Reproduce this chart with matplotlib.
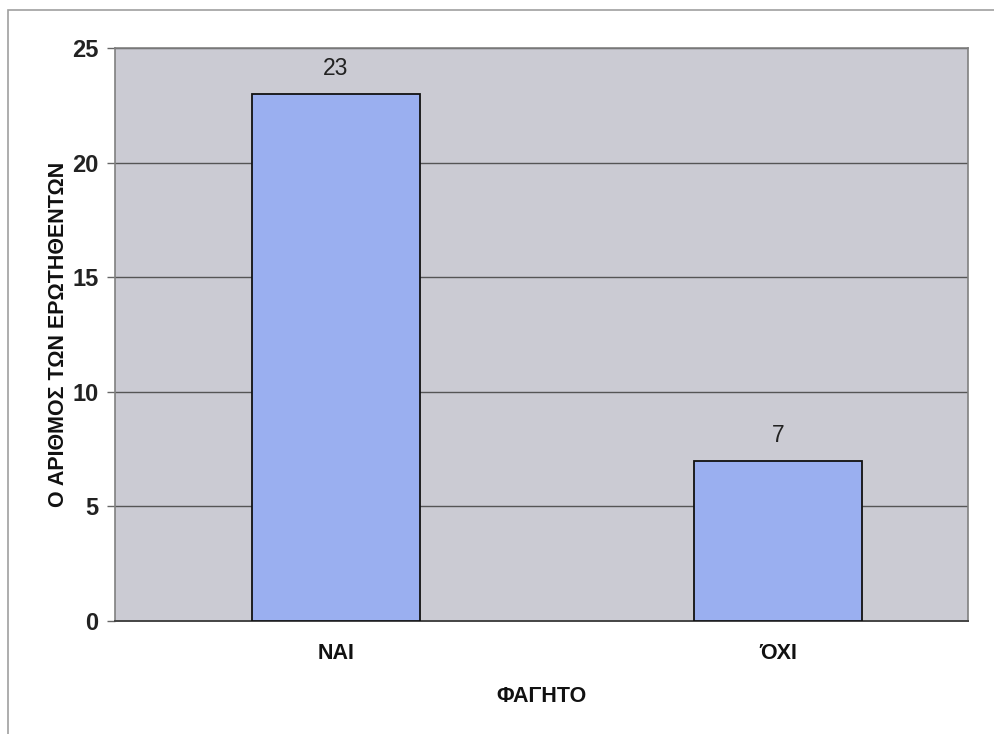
import matplotlib.pyplot as plt
from matplotlib.patches import Rectangle

categories = ["ΝΑΙ", "ΌΧΙ"]
values = [23, 7]
yticks = [0, 5, 10, 15, 20, 25]

plt.rcParams['font.family'] = ['Liberation Sans', 'DejaVu Sans']

fig = plt.figure(figsize=(9.95, 7.34), dpi=100)
fig.patch.set_facecolor("white")

# chart area border (scan of an Excel chart)
fig.patches.append(Rectangle((8 / 995, -0.1), 1.2, (734 - 10) / 734 + 0.1,
                             transform=fig.transFigure, fill=False,
                             edgecolor="#a0a0a0", lw=1.2))

ax = fig.add_axes([115 / 995, 1 - 621 / 734, (968 - 115) / 995, (621 - 48) / 734])
ax.set_facecolor("#cbcbd3")

x = [0, 1]
bars = ax.bar(x, values, width=0.38, color="#9aaff0", edgecolor="#111111", lw=1.3, zorder=3)
for xi, v in zip(x, values):
    ax.text(xi, v + 0.6, str(v), ha="center", va="bottom", fontsize=16.5, color="#222222")

ax.set_xlim(-0.5, 1.43)
ax.set_ylim(0, 25)
ax.set_yticks(yticks)
ax.yaxis.grid(True, color="#555555", lw=1.0, zorder=1)
ax.set_axisbelow(True)

ax.set_xticks(x)
ax.set_xticklabels(categories, fontsize=15.5, fontweight="bold", color="#111111")
ax.tick_params(axis="x", length=0, pad=16)
ax.tick_params(axis="y", length=6, width=1, color="#666666", labelsize=17,
               labelcolor="#222222", pad=6)
for lab in ax.get_yticklabels():
    lab.set_fontweight("bold")

for s in ["left", "right", "top"]:
    ax.spines[s].set_color("#808080")
    ax.spines[s].set_linewidth(1.2)
ax.spines["bottom"].set_color("#444444")
ax.spines["bottom"].set_linewidth(1.4)

ax.set_ylabel("Ο ΑΡΙΘΜΟΣ ΤΩΝ ΕΡΩΤΗΘΕΝΤΩΝ", fontsize=15.5, fontweight="bold",
              color="#111111", labelpad=2)
ax.set_xlabel("ΦΑΓΗΤΟ", fontsize=15.5, fontweight="bold", color="#111111", labelpad=16)

fig.savefig("out.png", dpi=100)
